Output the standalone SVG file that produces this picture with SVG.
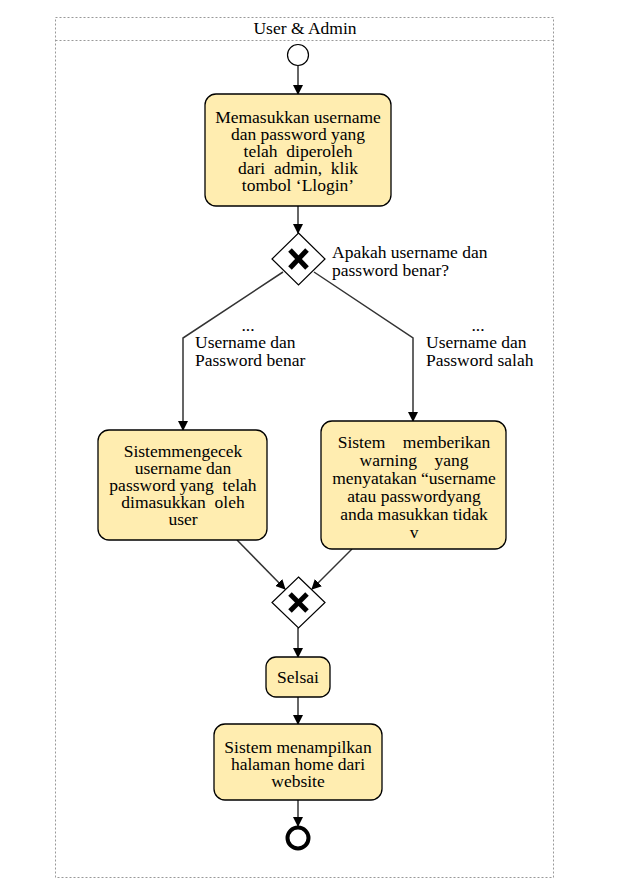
<svg xmlns="http://www.w3.org/2000/svg" width="633" height="885" viewBox="0 0 633 885">
<style>
text{font-family:"Liberation Serif","Times New Roman",serif;font-size:17.5px;fill:#000;white-space:pre}
.c{text-anchor:middle}
.task{fill:#FFEDB0;stroke:#000;stroke-width:1.3}
.gw{fill:#fff;stroke:#000;stroke-width:1.2}
.x{stroke:#000;stroke-width:5;stroke-linecap:butt}
.edge{fill:none;stroke:#333;stroke-width:1.5}
.pool{fill:none;stroke:#999;stroke-width:1;stroke-dasharray:2,2}
</style>
<defs>
<marker id="ah" markerWidth="10" markerHeight="10" refX="9" refY="5" orient="auto" markerUnits="userSpaceOnUse">
<path d="M0,0 L10,5 L0,10 Z" fill="#000"/>
</marker>
</defs>
<rect width="633" height="885" fill="#fff"/>
<g id="pool">
<rect class="pool" x="55.5" y="17.5" width="498" height="860"/>
<line class="pool" x1="55.5" y1="40.5" x2="553.5" y2="40.5"/>
<text class="c" x="305" y="34">User &amp; Admin</text>
</g>
<g id="connectors">
<line class="edge" x1="298" y1="66" x2="298" y2="94" marker-end="url(#ah)"/>
<line class="edge" x1="298" y1="206" x2="298" y2="233" marker-end="url(#ah)"/>
<polyline class="edge" points="283,272 183,338 183,430" marker-end="url(#ah)"/>
<polyline class="edge" points="314,272 413,338 413,421" marker-end="url(#ah)"/>
<line class="edge" x1="237" y1="540" x2="285" y2="589" marker-end="url(#ah)"/>
<line class="edge" x1="352" y1="549" x2="312" y2="589" marker-end="url(#ah)"/>
<line class="edge" x1="298" y1="628" x2="298" y2="657" marker-end="url(#ah)"/>
<line class="edge" x1="298" y1="697" x2="298" y2="724" marker-end="url(#ah)"/>
<line class="edge" x1="298" y1="800" x2="298" y2="826" marker-end="url(#ah)"/>
<text class="c" x="248" y="331">...</text>
<text x="195" y="348">Username dan</text>
<text x="195" y="366">Password benar</text>
<text class="c" x="478" y="331">...</text>
<text x="426" y="348">Username dan</text>
<text x="426" y="366">Password salah</text>
<text x="332" y="258">Apakah username dan</text>
<text x="332" y="276">password benar?</text>
</g>
<g id="start">
<circle cx="298" cy="55" r="10.5" fill="#fff" stroke="#000" stroke-width="1.2"/>
</g>
<g id="task1">
<rect class="task" x="205" y="94" width="186" height="112" rx="11"/>
<text class="c" x="298" y="123">Memasukkan username</text>
<text class="c" x="298" y="140">dan password yang</text>
<text class="c" x="298" y="157">telah  diperoleh</text>
<text class="c" x="298" y="174">dari  admin,  klik</text>
<text class="c" x="298" y="191">tombol ‘Llogin’</text>
</g>
<g id="gateway1">
<path class="gw" d="M298.5,233 L325,259 L298.5,285 L272,259 Z"/>
<line class="x" x1="290" y1="250" x2="307" y2="268"/>
<line class="x" x1="307" y1="250" x2="290" y2="268"/>
</g>
<g id="task2">
<rect class="task" x="98" y="430" width="169" height="110" rx="11"/>
<text class="c" x="183" y="457">Sistemmengecek</text>
<text class="c" x="183" y="474">username dan</text>
<text class="c" x="183" y="491">password yang  telah</text>
<text class="c" x="183" y="508">dimasukkan  oleh</text>
<text class="c" x="183" y="525">user</text>
</g>
<g id="task3">
<rect class="task" x="321" y="421" width="185" height="128" rx="11"/>
<text class="c" x="414" y="448">Sistem    memberikan</text>
<text class="c" x="414" y="466">warning    yang</text>
<text class="c" x="414" y="484">menyatakan “username</text>
<text class="c" x="414" y="502">atau passwordyang</text>
<text class="c" x="414" y="520">anda masukkan tidak</text>
<text class="c" x="414" y="538">v</text>
</g>
<g id="gateway2">
<path class="gw" d="M298.5,577 L325,602.5 L298.5,628 L272,602.5 Z"/>
<line class="x" x1="290" y1="594" x2="307" y2="611"/>
<line class="x" x1="307" y1="594" x2="290" y2="611"/>
</g>
<g id="task4">
<rect class="task" x="266" y="657" width="64" height="40" rx="10"/>
<text class="c" x="298" y="683">Selsai</text>
</g>
<g id="task5">
<rect class="task" x="214" y="724" width="168" height="76" rx="11"/>
<text class="c" x="298" y="753">Sistem menampilkan</text>
<text class="c" x="298" y="770">halaman home dari</text>
<text class="c" x="298" y="787">website</text>
</g>
<g id="end">
<circle cx="298" cy="838" r="10.5" fill="#fff" stroke="#000" stroke-width="4"/>
</g>
</svg>
